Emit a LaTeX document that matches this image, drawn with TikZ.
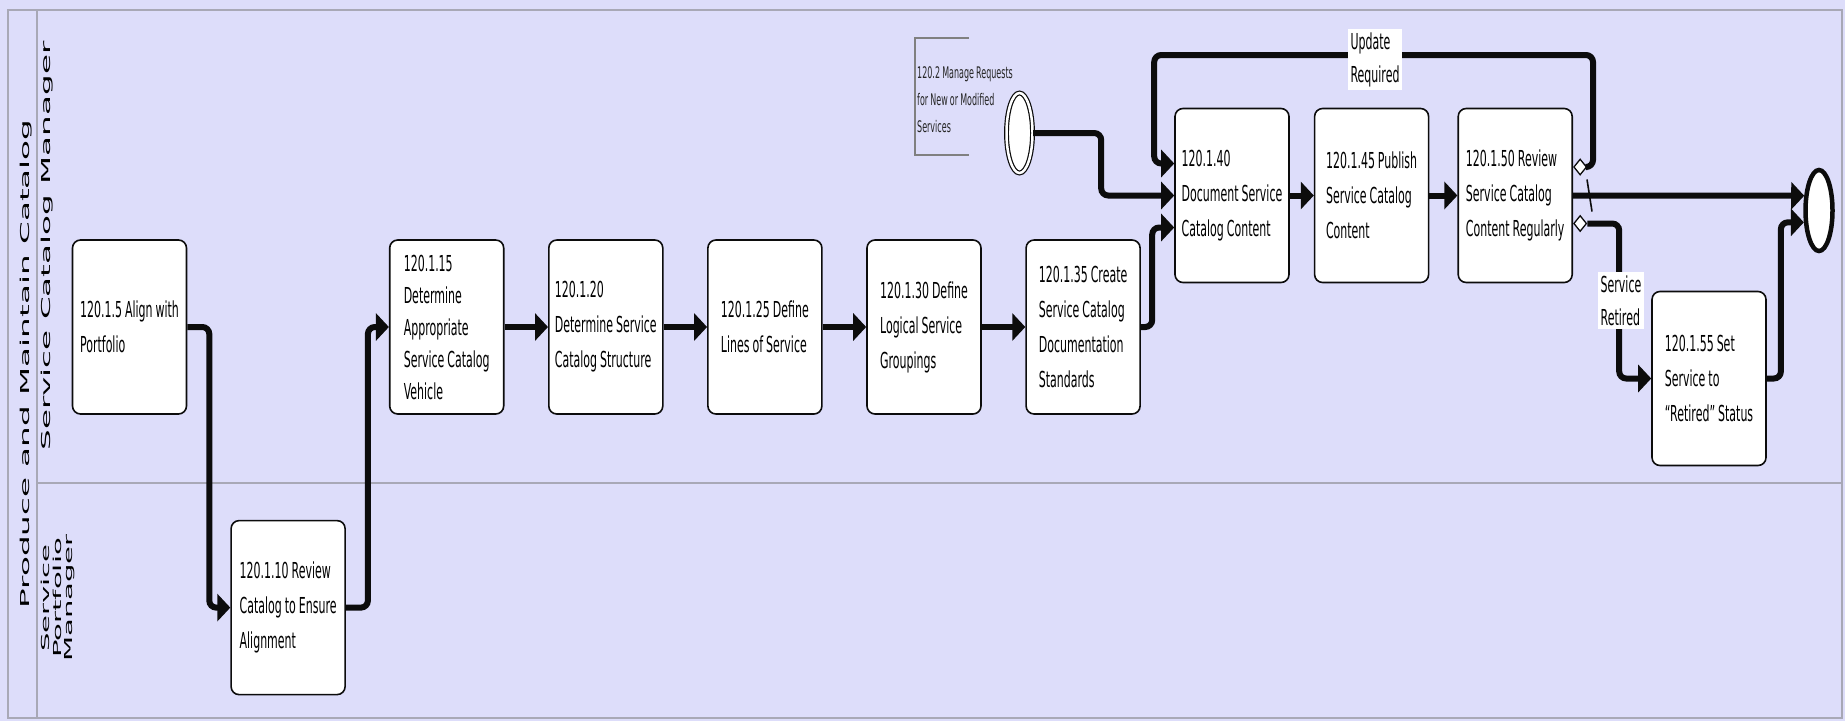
\documentclass[tikz,border=0pt]{standalone}
\usepackage{fontspec}
\usetikzlibrary{arrows.meta,positioning,shapes.geometric}
\usepackage{xcolor}
\newfontfamily\taskfont{DejaVu Sans}[FakeStretch=0.5, WordSpace=0.85]
\newfontfamily\lanefont{DejaVu Sans}[FakeStretch=2.65]
\definecolor{poolbg}{RGB}{221,221,250}
\definecolor{poolline}{RGB}{168,168,182}
\definecolor{annogray}{RGB}{128,128,128}
\definecolor{lineblack}{RGB}{12,12,12}

\begin{document}
\begin{tikzpicture}[x=1pt,y=1pt,
  task/.style={rectangle, draw=lineblack, fill=white, rounded corners=8pt, line width=1.6pt, minimum width=114pt, minimum height=174pt, inner xsep=6pt, align=left, font=\taskfont\fontsize{22}{35}\selectfont},
  flow/.style={draw=lineblack, line width=6pt, rounded corners=7pt, -{Triangle[length=13pt,width=27pt]}},
  gate/.style={diamond, draw=lineblack, fill=white, line width=1.3pt, minimum width=13pt, minimum height=16pt, inner sep=0pt},
  flowlabel/.style={fill=white, inner sep=3pt, align=left, font=\taskfont\fontsize{22}{33}\selectfont},
  lanetitle/.style={rotate=90, align=center, font=\lanefont\fontsize{12.3}{11.5}\selectfont}]

% pool and lanes
\useasboundingbox (0,0) rectangle (1845,-721);
\fill[poolbg] (0,0) rectangle (1845,-721);
\draw[poolline, line width=2pt] (8,-10) rectangle (1842,-718);
\draw[poolline, line width=1.5pt] (37,-10) -- (37,-718);
\draw[poolline, line width=1.5pt] (37,-483) -- (1842,-483);
\node[lanetitle] (pooltitle) at (26.3,-364) {Produce and Maintain Catalog};
\node[lanetitle] (lanecat) at (47.5,-246) {Service Catalog Manager};
\node[lanetitle, font=\lanefont\fontsize{11}{11.8}\selectfont] (laneport) at (58,-598) {Service\\Portfolio\\Manager};

% tasks
\node[task] (b1) at (129.5,-327) {120.1.5 Align with\\Portfolio};
\node[task, below right=105pt and 43pt of b1] (b2) {120.1.10 Review\\Catalog to Ensure\\Alignment};
\node[task, above right=105pt and 43pt of b2, font=\taskfont\fontsize{22}{32}\selectfont] (b3) {120.1.15\\Determine\\Appropriate\\Service Catalog\\Vehicle};
\node[task, right=43.5pt of b3] (b4) {120.1.20\\Determine Service\\Catalog Structure};
\node[task, right=43.5pt of b4] (b5) {120.1.25 Define\\Lines of Service};
\node[task, right=43.5pt of b5] (b6) {120.1.30 Define\\Logical Service\\Groupings};
\node[task, right=43.5pt of b6] (b7) {120.1.35 Create\\Service Catalog\\Documentation\\Standards};
\node[task] (b40) at (1232,-195.5) {120.1.40\\Document Service\\Catalog Content};
\node[task, right=24pt of b40] (b45) {120.1.45 Publish\\Service Catalog\\Content};
\node[task, right=28pt of b45] (b50) {120.1.50 Review\\Service Catalog\\Content Regularly};
\node[task] (b55) at (1709,-378.5) {120.1.55 Set\\Service to\\“Retired” Status};

% events and annotation
\node[ellipse, draw=lineblack, fill=white, line width=1.2pt, double=white, double distance=2.5pt, minimum width=26pt, minimum height=80pt, inner sep=0pt] (startev) at (1019.5,-133) {};
\node[ellipse, draw=lineblack, fill=white, line width=4.5pt, minimum width=27pt, minimum height=81pt, inner sep=0pt] (endev) at (1819,-210.5) {};
\node[anchor=west, inner sep=0pt, align=left, text=black!85, font=\taskfont\fontsize{16}{27}\selectfont] (req) at (917,-99.5) {120.2 Manage Requests\\for New or Modified\\Services};
\draw[annogray, line width=1.4pt] (969,-38) -- (915,-38) -- (915,-155) -- (969,-155);

% gateways on 120.1.50
\node[gate, anchor=west] (gupd) at ([yshift=28.5pt]b50.east) {};
\node[gate, anchor=west] (gret) at ([yshift=-28pt]b50.east) {};
\coordinate (looptop) at (1593,-55);

% sequence flows
\draw[flow] (b1.east) -| ([xshift=-21pt]b2.west) -- (b2.west);
\draw[flow] (b2.east) -| ([xshift=-21pt]b3.west) -- (b3.west);
\draw[flow] (b3) -- (b4);
\draw[flow] (b4) -- (b5);
\draw[flow] (b5) -- (b6);
\draw[flow] (b6) -- (b7);
\draw[flow] (b7.east) -| ([xshift=-22pt,yshift=-32pt]b40.west) -- ([yshift=-32pt]b40.west);
\draw[flow] (startev.east) -| ([xshift=-73pt]b40.west) -- (b40.west);
\draw[flow] (b40) -- (b45);
\draw[flow] (b45) -- (b50);
\draw[flow] (b50.east) -- (endev.135);
\draw[lineblack, line width=1.6pt] ([xshift=14pt,yshift=16pt]b50.east) -- ([xshift=19pt,yshift=-16pt]b50.east);
\draw[flow] (gupd.east) -| (looptop) -| ([xshift=-20pt,yshift=32pt]b40.west) -- ([yshift=32pt]b40.west);
\draw[flow] (gret.east) -| ([xshift=-32pt]b55.west) -- (b55.west);
\draw[flow] (b55.east) -| ([xshift=-23pt]endev.218) -- (endev.218);

% flow labels
\node[flowlabel] (lblupd) at (1375,-59.5) {Update\\Required};
\node[flowlabel] (lblret) at (1621,-300.5) {Service\\Retired};
\end{tikzpicture}
\end{document}
